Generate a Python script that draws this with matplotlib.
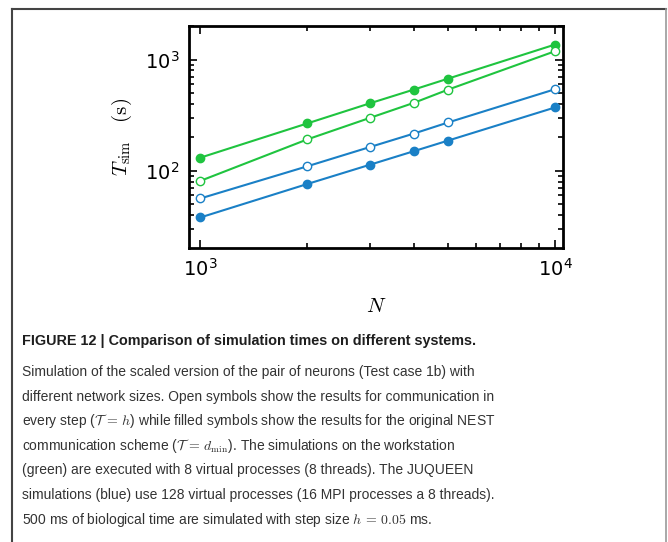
import matplotlib
matplotlib.use("Agg")
import matplotlib.pyplot as plt
from matplotlib.lines import Line2D
from matplotlib.ticker import LogLocator, NullFormatter

plt.rcParams["mathtext.fontset"] = "cm"

# network sizes and simulation times (s)
n_neurons = [1000, 2000, 3000, 4000, 5000, 10000]
ws_filled = [131, 266, 403, 537, 674, 1364]   # workstation, T = d_min
ws_open = [81, 191, 298, 408, 537, 1188]      # workstation, T = h
jq_open = [56.3, 109.5, 163, 216, 272, 541]   # JUQUEEN, T = h
jq_filled = [38.0, 75.9, 113, 150, 187, 371]  # JUQUEEN, T = d_min

GREEN = "#1fc43f"
BLUE = "#1a80c6"

fig = plt.figure(figsize=(6.68, 5.42), dpi=100)
ax = fig.add_axes([0.283, 0.5424, 0.560, 0.4096])

ms = 6
ax.plot(n_neurons, ws_filled, "-o", color=GREEN, lw=1.5, ms=ms, mec=GREEN, mfc=GREEN)
ax.plot(n_neurons, ws_open, "-o", color=GREEN, lw=1.5, ms=ms, mec=GREEN, mfc="white")
ax.plot(n_neurons, jq_open, "-o", color=BLUE, lw=1.5, ms=ms, mec=BLUE, mfc="white")
ax.plot(n_neurons, jq_filled, "-o", color=BLUE, lw=1.5, ms=ms, mec=BLUE, mfc=BLUE)

ax.set_xscale("log")
ax.set_yscale("log")
ax.set_xlim(930, 10530)
ax.set_ylim(20.2, 2000)
for a in (ax.xaxis, ax.yaxis):
    a.set_major_locator(LogLocator(base=10))
    a.set_minor_locator(LogLocator(base=10, subs=range(2, 10)))
    a.set_minor_formatter(NullFormatter())
ax.tick_params(which="both", direction="in", top=True, right=True, width=1.2)
ax.tick_params(which="major", length=6, labelsize=14, pad=7)
ax.tick_params(which="minor", length=3.5)
for s in ax.spines.values():
    s.set_linewidth(2)

ax.set_ylabel(r"$T_{\rm sim}\quad({\rm s})$", fontsize=15, labelpad=8)
ax.set_xlabel(r"$N$", fontsize=15, labelpad=12)

# frame around figure + caption
fig.add_artist(Line2D([12 / 668, 666 / 668], [1 - 9 / 542, 1 - 9 / 542], color="#444444", lw=1.5))
fig.add_artist(Line2D([12 / 668, 12 / 668], [1 - 9 / 542, 0], color="#444444", lw=1.5))
fig.add_artist(Line2D([666 / 668, 666 / 668], [1 - 9 / 542, 0], color="#999999", lw=1.2))

cap_x = 22 / 668
fig.text(cap_x, 1 - 341 / 542, "FIGURE 12 | Comparison of simulation times on different systems.",
         fontsize=10.4, fontweight="bold", family="Liberation Sans", color="#1e1e1e", va="center")
body = [
    "Simulation of the scaled version of the pair of neurons (Test case 1b) with",
    "different network sizes. Open symbols show the results for communication in",
    r"every step ($\mathcal{T}\,=\,h$) while filled symbols show the results for the original NEST",
    r"communication scheme ($\mathcal{T}\,=\,d_{\rm min}$). The simulations on the workstation",
    "(green) are executed with 8 virtual processes (8 threads). The JUQUEEN",
    "simulations (blue) use 128 virtual processes (16 MPI processes a 8 threads).",
    r"500 ms of biological time are simulated with step size $h\,=\,0.05$ ms.",
]
for i, line in enumerate(body):
    fig.text(cap_x, 1 - (372 + 24.6 * i) / 542, line, fontsize=10.0, family="Liberation Sans",
             color="#333333", va="center")

fig.savefig("out.png", dpi=100)
